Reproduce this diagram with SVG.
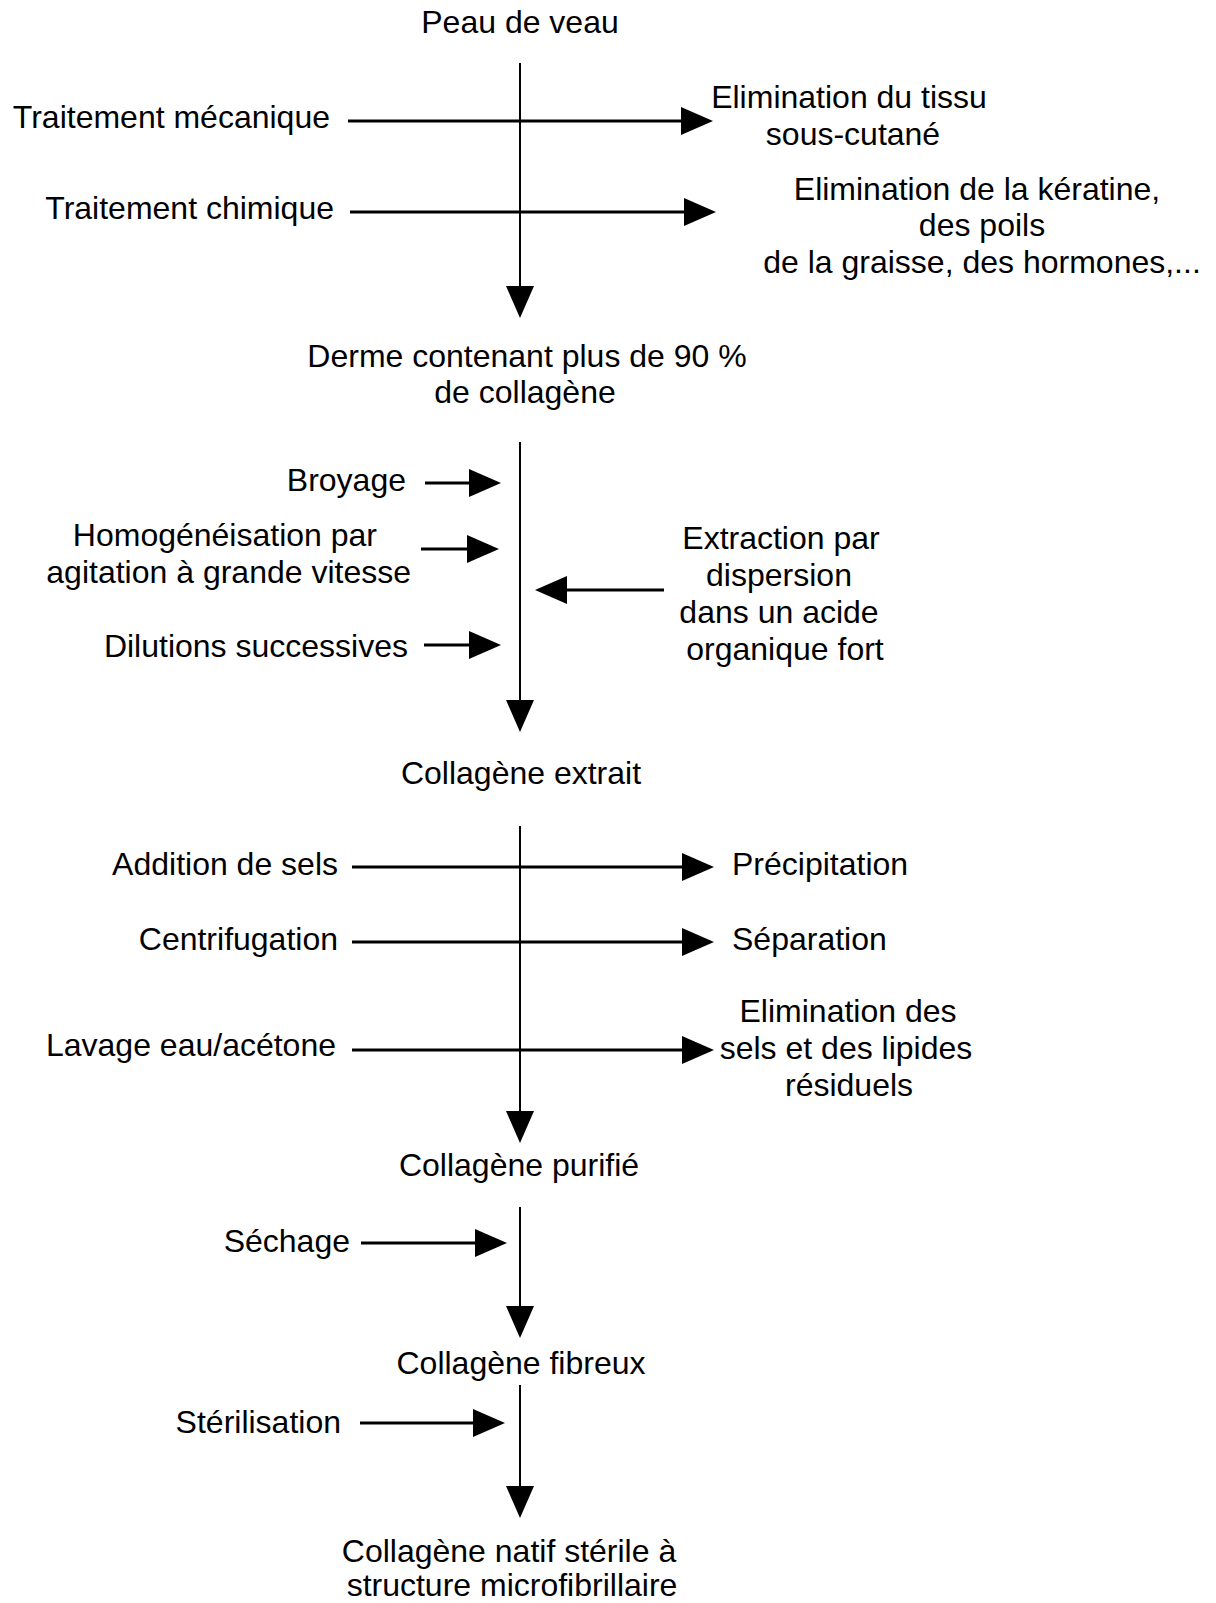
<svg xmlns="http://www.w3.org/2000/svg" width="1216" height="1603" viewBox="0 0 1216 1603">
<style>
text{font-family:"Liberation Sans",Arial,Helvetica,sans-serif;font-size:32px;fill:#000}
.m{text-anchor:middle}.e{text-anchor:end}.s{text-anchor:start}
.v{stroke:#000;stroke-width:2;fill:none;marker-end:url(#ah)}
.h{stroke:#000;stroke-width:3;fill:none;marker-end:url(#ah)}
</style>
<defs>
<marker id="ah" markerUnits="userSpaceOnUse" markerWidth="34" markerHeight="30" refX="12" refY="14" orient="auto" overflow="visible">
<path d="M0,0 L32,14 L0,28 z" fill="#000"/>
</marker>
</defs>
<rect width="1216" height="1603" fill="#fff"/>
<g id="connectors">
<line class="v" x1="520" y1="63" x2="520" y2="298"/>
<line class="v" x1="520" y1="442" x2="520" y2="712"/>
<line class="v" x1="520" y1="826" x2="520" y2="1123"/>
<line class="v" x1="520" y1="1207" x2="520" y2="1318"/>
<line class="v" x1="520" y1="1385" x2="520" y2="1498"/>
<line class="h" x1="348" y1="121" x2="693" y2="121"/>
<line class="h" x1="350" y1="212" x2="696" y2="212"/>
<line class="h" x1="425" y1="483" x2="481" y2="483"/>
<line class="h" x1="421" y1="549" x2="479" y2="549"/>
<line class="h" x1="424" y1="645" x2="481" y2="645"/>
<line class="h" x1="664" y1="590" x2="555" y2="590"/>
<line class="h" x1="352" y1="867" x2="694" y2="867"/>
<line class="h" x1="352" y1="942" x2="694" y2="942"/>
<line class="h" x1="352" y1="1050" x2="694" y2="1050"/>
<line class="h" x1="361" y1="1243" x2="487" y2="1243"/>
<line class="h" x1="360" y1="1423" x2="485" y2="1423"/>
</g>
<g id="n-peau"><text class="m" x="520" y="33">Peau de veau</text></g>
<g id="n-trait-meca"><text class="e" x="330" y="128">Traitement mécanique</text></g>
<g id="n-elim-tissu"><text class="m" x="849" y="108">Elimination du tissu</text><text class="m" x="853" y="145">sous-cutané</text></g>
<g id="n-trait-chim"><text class="e" x="334" y="219">Traitement chimique</text></g>
<g id="n-elim-keratine"><text class="m" x="977" y="200">Elimination de la kératine,</text><text class="m" x="982" y="236">des poils</text><text class="m" x="982" y="273">de la graisse, des hormones,...</text></g>
<g id="n-derme"><text class="m" x="527" y="367">Derme contenant plus de 90 %</text><text class="m" x="525" y="403">de collagène</text></g>
<g id="n-broyage"><text class="e" x="406" y="491">Broyage</text></g>
<g id="n-homog"><text class="e" x="377" y="546">Homogénéisation par</text><text class="e" x="411" y="583">agitation à grande vitesse</text></g>
<g id="n-dilutions"><text class="e" x="408" y="657">Dilutions successives</text></g>
<g id="n-extraction"><text class="m" x="781" y="549">Extraction par</text><text class="m" x="779" y="586">dispersion</text><text class="m" x="779" y="623">dans un acide</text><text class="m" x="785" y="660">organique fort</text></g>
<g id="n-coll-extrait"><text class="m" x="521" y="784">Collagène extrait</text></g>
<g id="n-addition"><text class="e" x="338" y="875">Addition de sels</text></g>
<g id="n-precip"><text class="s" x="732" y="875">Précipitation</text></g>
<g id="n-centri"><text class="e" x="338" y="950">Centrifugation</text></g>
<g id="n-separ"><text class="s" x="732" y="950">Séparation</text></g>
<g id="n-lavage"><text class="e" x="336" y="1056">Lavage eau/acétone</text></g>
<g id="n-elim-sels"><text class="m" x="848" y="1022">Elimination des</text><text class="m" x="846" y="1059">sels et des lipides</text><text class="m" x="849" y="1096">résiduels</text></g>
<g id="n-coll-purifie"><text class="m" x="519" y="1176">Collagène purifié</text></g>
<g id="n-sechage"><text class="e" x="350" y="1252">Séchage</text></g>
<g id="n-coll-fibreux"><text class="m" x="521" y="1374">Collagène fibreux</text></g>
<g id="n-sterilisation"><text class="e" x="341" y="1433">Stérilisation</text></g>
<g id="n-coll-natif"><text class="m" x="509" y="1562">Collagène natif stérile à</text><text class="m" x="512" y="1596">structure microfibrillaire</text></g>
</svg>
